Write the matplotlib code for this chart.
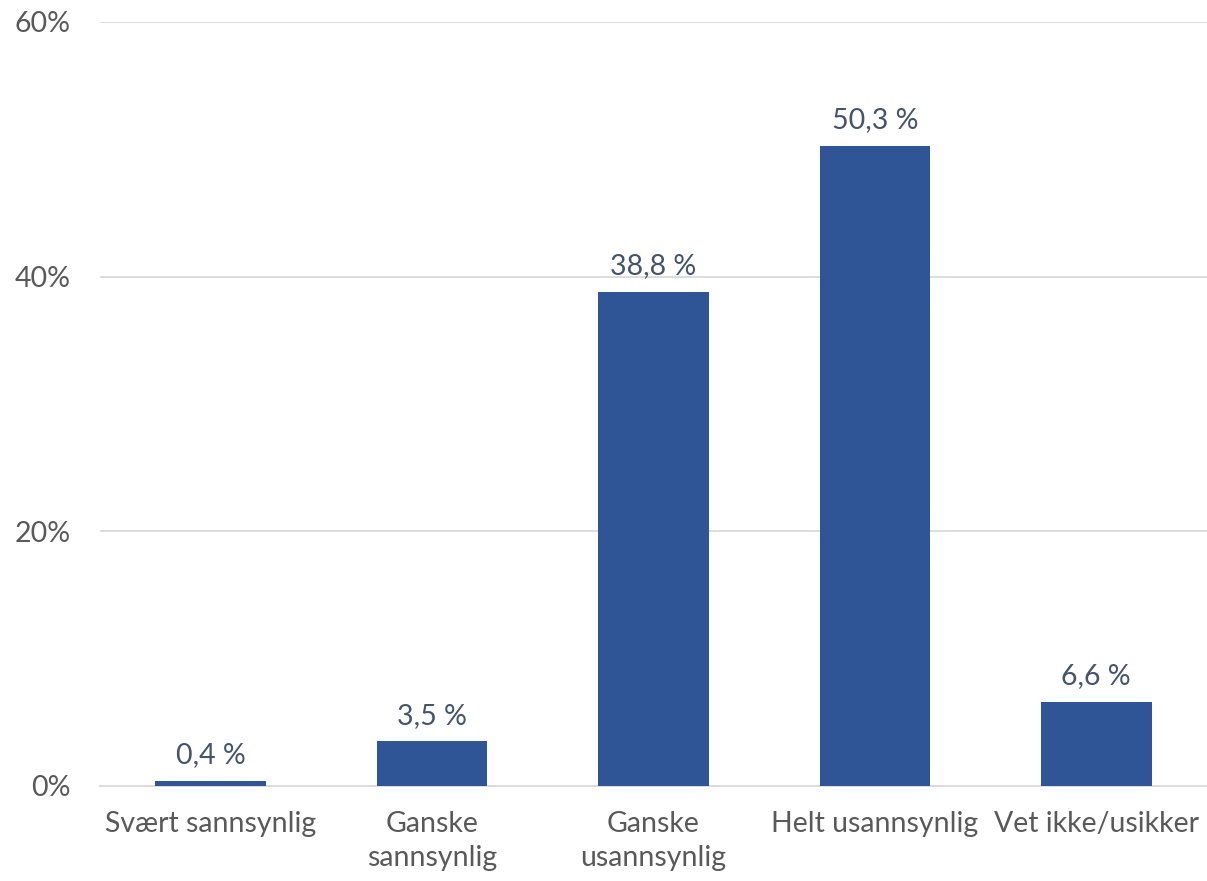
import matplotlib
matplotlib.use("Agg")
import matplotlib.pyplot as plt
from matplotlib.ticker import FuncFormatter

# ---------- data ----------
categories = ["Svært sannsynlig", "Ganske\nsannsynlig", "Ganske\nusannsynlig",
              "Helt usannsynlig", "Vet ikke/usikker"]
values = [0.4, 3.5, 38.8, 50.3, 6.6]
labels = ["0,4 %", "3,5 %", "38,8 %", "50,3 %", "6,6 %"]
yticks = [0, 20, 40, 60]
# --------------------------

plt.rcParams["font.family"] = ["Lato", "DejaVu Sans"]

fig = plt.figure(figsize=(12.07, 8.81), dpi=100)
ax = fig.add_axes([100 / 1207, 1 - 786 / 881, 1107 / 1207, (786 - 22) / 881])

x = range(len(categories))
ax.bar(x, values, width=0.5, color="#2F5597", zorder=3)

for xi, v, lab in zip(x, values, labels):
    ax.annotate(lab, (xi, v), xytext=(0, 9), textcoords="offset points",
                ha="center", va="bottom", fontsize=20.5, color="#44546A")

ax.set_xlim(-0.5, len(categories) - 0.5)
ax.set_ylim(0, 60)
ax.set_yticks(yticks)
ax.yaxis.set_major_formatter(FuncFormatter(lambda v, p: f"{v:.0f}%"))
ax.set_xticks(list(x))
ax.set_xticklabels(categories, linespacing=1.4)
ax.grid(axis="y", color="#D9D9D9", linewidth=1.3, zorder=0)

for s in ["top", "right", "left"]:
    ax.spines[s].set_visible(False)
ax.spines["bottom"].set_color("#D9D9D9")
ax.spines["bottom"].set_linewidth(1.3)
ax.tick_params(axis="both", length=0, labelsize=20.5, labelcolor="#595959")
ax.tick_params(axis="y", pad=21)
ax.tick_params(axis="x", pad=18)

fig.savefig("out.png", dpi=100)
